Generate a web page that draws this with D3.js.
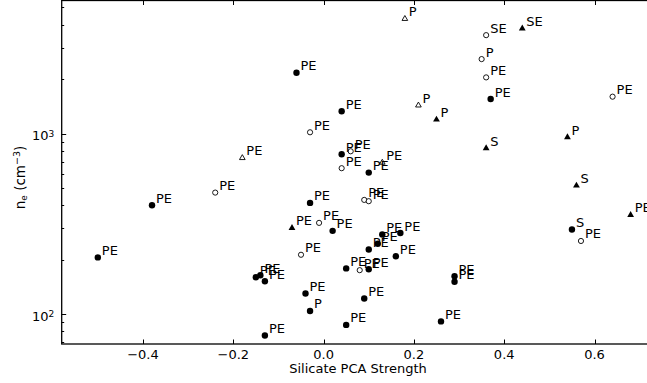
<!DOCTYPE html>
<html>
<head>
<meta charset="utf-8">
<script src="https://cdn.jsdelivr.net/npm/d3@7/dist/d3.min.js"></script>
<style>
  body { margin: 0; background: #fff; }
  svg { display: block; font-family: "DejaVu Sans", sans-serif; }
</style>
</head>
<body>
<svg id="chart" width="647" height="383"></svg>
<script>
// ---- data: [silicate PCA strength, n_e (cm^-3), label] ----
const filledCircles = [
  [-0.50, 206, "PE"], [-0.38, 401, "PE"], [-0.06, 2176, "PE"], [0.04, 1329, "PE"],
  [0.37, 1554, "PE"], [0.04, 768, "PE"], [0.10, 608, "PE"], [-0.03, 413, "PE"],
  [0.02, 289, "PE"], [0.13, 276, "PE"], [0.17, 281, "PE"], [0.12, 245, "PE"],
  [0.10, 228, "PE"], [0.16, 209, "PE"], [0.05, 179, "PE"], [0.10, 177, "PE"],
  [0.29, 162, "PE"], [0.29, 151, "PE"], [0.09, 122, "PE"], [0.05, 87, "PE"],
  [0.26, 91, "PE"], [-0.04, 130, "PE"], [-0.03, 104, "P"], [-0.13, 76, "PE"],
  [-0.15, 160, "PE"], [-0.14, 164, "PE"], [-0.13, 152, "PE"], [0.55, 294, "S"]
];
const openCircles = [
  [-0.24, 471, "PE"], [-0.03, 1017, "PE"], [0.36, 3513, "SE"], [0.35, 2588, "P"],
  [0.36, 2049, "PE"], [0.64, 1602, "PE"], [0.06, 798, "PE"], [0.04, 643, "PE"],
  [0.09, 429, "PE"], [0.10, 422, "PE"], [-0.01, 320, "PE"], [-0.05, 213, "PE"],
  [0.08, 175, "PE"], [0.57, 254, "PE"]
];
const openTriangles = [
  [0.18, 4328, "P"], [0.21, 1434, "P"], [-0.18, 733, "PE"], [0.13, 691, "PE"]
];
const filledTriangles = [
  [0.44, 3825, "SE"], [0.25, 1195, "P"], [0.36, 829, "S"], [0.54, 954, "P"],
  [0.56, 515, "S"], [0.68, 354, "PE"], [-0.07, 300, "PE"]
];
const xTicks = [-0.4, -0.2, 0.0, 0.2, 0.4, 0.6];
const yTicks = [100, 1000];
const yTickLabels = [["10", "2"], ["10", "3"]];
const xLabel = "Silicate PCA Strength";

// ---- layout ----
const svg = d3.select("#chart");
const pLeft = 61.7, pRight = 648.7, pTop = 0.5, pBottom = 344;
const x = d3.scaleLinear().domain([-0.58, 0.72]).range([pLeft, pRight]);
const y = d3.scaleLog().domain([68.2, 5467]).range([pBottom, pTop]);
const FS = 13;

const g = svg.append("g");

// spines
g.append("rect").attr("x", pLeft).attr("y", pTop)
  .attr("width", pRight - pLeft).attr("height", pBottom - pTop)
  .attr("fill", "none").attr("stroke", "#000").attr("stroke-width", 1.3);

// x ticks (bottom and top, inward)
xTicks.forEach(t => {
  const px = Math.round(x(t)) + 0.5;
  g.append("line").attr("x1", px).attr("x2", px).attr("y1", pBottom).attr("y2", pBottom - 4.5)
    .attr("stroke", "#000").attr("stroke-width", 1);
  g.append("line").attr("x1", px).attr("x2", px).attr("y1", pTop).attr("y2", pTop + 4.5)
    .attr("stroke", "#000").attr("stroke-width", 1);
  g.append("text").attr("x", x(t)).attr("y", 358.5)
    .attr("text-anchor", "middle").attr("font-size", FS).attr("fill", "#000")
    .text(d3.format(".1f")(t).replace("-", "\u2212"));
});

// y ticks: major and minor (inward)
const [d0, d1] = y.domain();
for (let e = Math.floor(Math.log10(d0)); e <= Math.ceil(Math.log10(d1)); e++) {
  for (let m = 1; m <= 9; m++) {
    const v = m * Math.pow(10, e);
    if (v < d0 || v > d1) continue;
    const py = Math.round(y(v)) + 0.5;
    const len = m === 1 ? 4.5 : 2.5;
    g.append("line").attr("x1", pLeft).attr("x2", pLeft + len).attr("y1", py).attr("y2", py)
      .attr("stroke", "#000").attr("stroke-width", 1);
  }
}
yTicks.forEach((t, i) => {
  const tx = g.append("text").attr("x", pLeft - 7.5).attr("y", y(t) + 6.5)
    .attr("text-anchor", "end").attr("font-size", FS).attr("fill", "#000");
  tx.append("tspan").text(yTickLabels[i][0]);
  tx.append("tspan").attr("dy", -3.5).attr("font-size", 9).text(yTickLabels[i][1]);
});

// axis labels
svg.append("text").attr("x", 358).attr("y", 373)
  .attr("text-anchor", "middle").attr("font-size", FS).attr("fill", "#000").text(xLabel);

const yl = svg.append("text")
  .attr("transform", "translate(25,177.5) rotate(-90)")
  .attr("text-anchor", "middle").attr("font-size", 13.5).attr("fill", "#000");
yl.append("tspan").text("n");
yl.append("tspan").attr("font-size", 9).attr("dy", 2).text("e");
yl.append("tspan").attr("dy", -2).text(" (cm");
yl.append("tspan").attr("font-size", 9.5).attr("dy", -5).text("\u22123");
yl.append("tspan").attr("dy", 5).text(")");

// markers
const plot = svg.append("g");
function labels(data) {
  plot.selectAll(null).data(data).enter().append("text")
    .attr("x", d => x(d[0]) + 4).attr("y", d => y(d[1]) - 2.5)
    .attr("font-size", FS).attr("fill", "#000").text(d => d[2]);
}
plot.selectAll(null).data(filledCircles).enter().append("circle")
  .attr("cx", d => x(d[0])).attr("cy", d => y(d[1])).attr("r", 3.2).attr("fill", "#000");
plot.selectAll(null).data(openCircles).enter().append("circle")
  .attr("cx", d => x(d[0])).attr("cy", d => y(d[1])).attr("r", 2.6)
  .attr("fill", "#fff").attr("stroke", "#000").attr("stroke-width", 0.9);
const tri = d3.symbol().type(d3.symbolTriangle);
plot.selectAll(null).data(openTriangles).enter().append("path")
  .attr("transform", d => `translate(${x(d[0])},${y(d[1])})`)
  .attr("d", tri.size(14)()).attr("fill", "#fff").attr("stroke", "#000").attr("stroke-width", 0.9);
plot.selectAll(null).data(filledTriangles).enter().append("path")
  .attr("transform", d => `translate(${x(d[0])},${y(d[1])})`)
  .attr("d", tri.size(20)()).attr("fill", "#000");
labels(filledCircles);
labels(openCircles);
labels(openTriangles);
labels(filledTriangles);
</script>
</body>
</html>
